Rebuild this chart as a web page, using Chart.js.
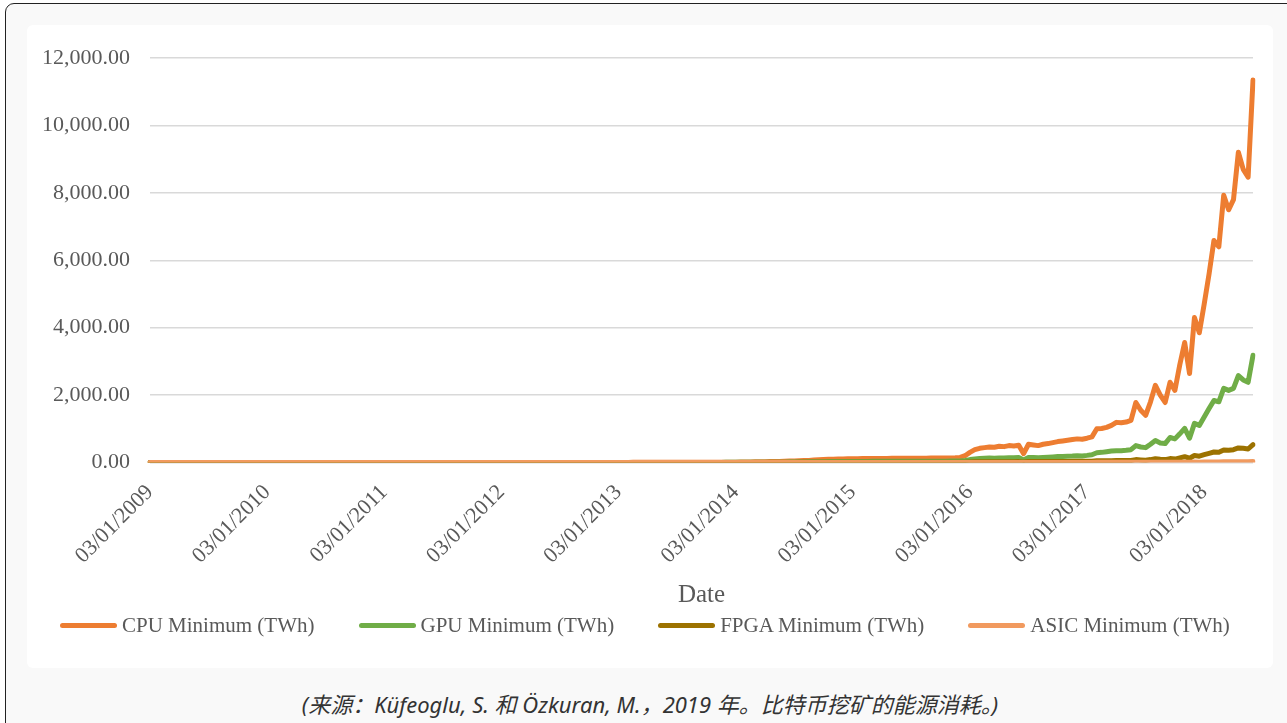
<!DOCTYPE html>
<html>
<head>
<meta charset="utf-8">
<title>Bitcoin mining energy - minimum estimates</title>
<script src="https://cdn.jsdelivr.net/npm/chart.js@4.4.1/dist/chart.umd.min.js"></script>
<style>
    html, body { margin: 0; padding: 0; background: #fff; width: 1287px; height: 723px; overflow: hidden; }
    .frame {
        position: absolute; left: 5px; top: 3px; width: 1320px; height: 760px;
        border: 1px solid #222; border-radius: 9px; background: #f9f9f9;
    }
    .card {
        position: absolute; left: 27px; top: 25px; width: 1246px; height: 643px;
        background: #fff; border-radius: 6px;
    }
    .legend {
        position: absolute; left: 60px; top: 612px; height: 26px;
        display: flex; align-items: center; gap: 44px;
        font: 21px 'Liberation Serif', 'Times New Roman', serif; color: #595959;
    }
    .legend .item { display: flex; align-items: center; white-space: nowrap; }
    .legend .swatch { width: 57px; height: 5px; border-radius: 3px; margin-right: 5px; }
    .caption {
        position: absolute; left: 27px; width: 1246px; top: 689px;
        text-align: center; font: italic 22px "Noto Sans", "Noto Sans CJK SC", sans-serif;
        color: #333; line-height: 30px;
    }
</style>
</head>
<body>
<div class="frame"></div>
<div class="card"><canvas id="energyChart" width="1246" height="643"></canvas></div>
<div class="legend" id="legend"></div>
<div class="caption">(来源：Küfeoglu, S. 和 Özkuran, M.，2019 年。比特币挖矿的能源消耗。)</div>

<script>
// one row per year, two readings per month (3rd and 17th), Jan 2009 .. Jun 2018
const CPU_MIN = [
    0, 0, 0, 0, 0, 0, 0, 0, 0, 0, 0, 0, 0, 0, 0, 0, 0, 0, 0, 0, 0, 0, 0, 0,
    0, 0, 0, 0, 0, 0, 0, 0, 0, 0, 0, 0, 0, 0, 0, 0, 0, 0, 0, 0, 0, 0, 0, 0,
    0, 0, 0, 0, 0, 0, 0, 0, 0, 0, 0, 0, 1, 1, 1, 1, 1, 1, 1, 1, 1, 1, 1, 1,
    1, 1, 1, 1, 1, 1, 1, 1, 1, 1, 1, 1, 2, 2, 2, 2, 2, 2, 2, 2, 2, 2, 2, 2,
    2, 2, 2, 3, 3, 3, 3, 4, 4, 4, 4, 5, 5, 5, 5, 6, 6, 6, 7, 7, 7, 8, 8, 9,
    10, 12, 14, 16, 18, 20, 22, 25, 28, 32, 36, 40, 45, 50, 55, 62, 70, 78, 85, 92, 98, 102, 105, 108,
    110, 112, 115, 115, 118, 118, 120, 120, 122, 122, 124, 125, 125, 126, 128, 128, 130, 130, 132, 132, 135, 140, 150, 200,
    300, 380, 420, 440, 460, 450, 480, 470, 500, 490, 510, 260, 540, 520, 500, 540, 560, 590, 620, 640, 660, 680, 700, 690,
    720, 760, 1000, 1010, 1040, 1100, 1190, 1180, 1200, 1250, 1780, 1550, 1400, 1800, 2290, 2000, 1780, 2380, 2140, 2900, 3560, 2640, 4300, 3850,
    4700, 5600, 6590, 6400, 7930, 7500, 7800, 9210, 8700, 8470, 11350
];

const GPU_MIN = [
    0, 0, 0, 0, 0, 0, 0, 0, 0, 0, 0, 0, 0, 0, 0, 0, 0, 0, 0, 0, 0, 0, 0, 0,
    0, 0, 0, 0, 0, 0, 0, 0, 0, 0, 0, 0, 0, 0, 0, 0, 0, 0, 0, 0, 0, 0, 0, 0,
    0, 0, 0, 0, 0, 0, 0, 0, 0, 0, 0, 0, 0, 0, 0, 0, 0, 0, 0, 0, 0, 0, 0, 0,
    0, 0, 0, 0, 0, 0, 0, 0, 0, 0, 0, 0, 1, 1, 1, 1, 1, 1, 1, 1, 1, 1, 1, 1,
    1, 1, 1, 1, 1, 1, 1, 1, 1, 1, 1, 1, 2, 2, 2, 2, 2, 2, 2, 2, 2, 2, 3, 3,
    3, 3, 4, 4, 5, 5, 6, 7, 8, 9, 10, 11, 12, 14, 16, 18, 20, 22, 24, 26, 27, 28, 29, 30,
    31, 31, 32, 32, 33, 33, 34, 34, 34, 35, 35, 35, 36, 36, 36, 37, 37, 38, 38, 38, 40, 42, 45, 60,
    85, 105, 118, 124, 130, 128, 135, 132, 140, 138, 145, 75, 150, 146, 140, 150, 158, 165, 175, 180, 185, 190, 200, 195,
    210, 230, 290, 300, 320, 340, 350, 350, 360, 380, 500, 460, 440, 540, 650, 580, 560, 740, 700, 850, 1010, 720, 1160, 1100,
    1350, 1600, 1840, 1800, 2200, 2140, 2200, 2580, 2450, 2380, 3180
];

const FPGA_MIN = [
    0, 0, 0, 0, 0, 0, 0, 0, 0, 0, 0, 0, 0, 0, 0, 0, 0, 0, 0, 0, 0, 0, 0, 0,
    0, 0, 0, 0, 0, 0, 0, 0, 0, 0, 0, 0, 0, 0, 0, 0, 0, 0, 0, 0, 0, 0, 0, 0,
    0, 0, 0, 0, 0, 0, 0, 0, 0, 0, 0, 0, 0, 0, 0, 0, 0, 0, 0, 0, 0, 0, 0, 0,
    0, 0, 0, 0, 0, 0, 0, 0, 0, 0, 0, 0, 0, 0, 0, 0, 0, 0, 0, 0, 0, 0, 0, 0,
    0, 0, 0, 0, 0, 0, 0, 0, 0, 0, 0, 0, 0, 0, 0, 0, 0, 0, 0, 0, 0, 0, 0, 0,
    0, 0, 0, 1, 1, 1, 1, 1, 1, 2, 2, 2, 2, 3, 3, 3, 4, 4, 4, 4, 5, 5, 5, 5,
    5, 5, 5, 5, 5, 6, 6, 6, 6, 6, 6, 6, 6, 6, 7, 7, 7, 7, 7, 7, 7, 8, 8, 10,
    14, 18, 20, 21, 22, 22, 23, 23, 24, 24, 25, 12, 26, 25, 25, 26, 27, 28, 30, 31, 32, 33, 34, 33,
    35, 36, 48, 48, 50, 52, 56, 56, 58, 60, 85, 75, 68, 85, 110, 95, 85, 115, 100, 135, 170, 125, 205, 185,
    230, 270, 310, 300, 370, 360, 380, 430, 420, 400, 530
];

const ASIC_MIN = [
    0, 0, 0, 0, 0, 0, 0, 0, 0, 0, 0, 0, 0, 0, 0, 0, 0, 0, 0, 0, 0, 0, 0, 0,
    0, 0, 0, 0, 0, 0, 0, 0, 0, 0, 0, 0, 0, 0, 0, 0, 0, 0, 0, 0, 0, 0, 0, 0,
    0, 0, 0, 0, 0, 0, 0, 0, 0, 0, 0, 0, 0, 0, 0, 0, 0, 0, 0, 0, 0, 0, 0, 0,
    0, 0, 0, 0, 0, 0, 0, 0, 0, 0, 0, 0, 0, 0, 0, 0, 0, 0, 0, 0, 0, 0, 0, 0,
    0, 0, 0, 0, 0, 0, 0, 0, 0, 0, 0, 0, 0, 0, 0, 0, 0, 0, 0, 0, 0, 0, 0, 0,
    0, 0, 0, 0, 0, 0, 0, 0, 0, 0, 0, 0, 0, 0, 0, 0, 0, 0, 0, 0, 0, 0, 0, 0,
    0, 0, 0, 0, 0, 0, 0, 0, 0, 0, 0, 0, 0, 0, 0, 0, 0, 0, 0, 0, 0, 0, 0, 0,
    1, 1, 1, 1, 1, 1, 1, 1, 1, 1, 1, 1, 1, 1, 1, 1, 1, 1, 1, 1, 2, 2, 2, 2,
    2, 2, 3, 3, 3, 3, 3, 3, 3, 3, 5, 4, 4, 5, 6, 5, 5, 6, 6, 7, 9, 7, 11, 10,
    12, 15, 17, 16, 20, 19, 20, 24, 22, 22, 29
];

const SERIES_NAMES = ['CPU Minimum (TWh)', 'GPU Minimum (TWh)', 'FPGA Minimum (TWh)', 'ASIC Minimum (TWh)'];
const SERIES_COLORS = ['#ED7D31', '#70AD47', '#9C7200', '#F19A5F'];
const YEARS = [2009, 2010, 2011, 2012, 2013, 2014, 2015, 2016, 2017, 2018];
const DAYS = ['03', '17'];
const Y_TICKS = [0, 2000, 4000, 6000, 8000, 10000, 12000];

const SERIF = "'Liberation Serif', 'Times New Roman', serif";
const TEXT_GRAY = '#595959';

// dd/mm/yyyy category labels, only the 3 January ones get printed
const dates = [];
YEARS.forEach(y => {
    for (let m = 1; m <= 12; m++) {
        DAYS.forEach(d => dates.push(`${d}/${String(m).padStart(2, '0')}/${y}`));
    }
});
const labels = dates.slice(0, CPU_MIN.length);

const values = [CPU_MIN, GPU_MIN, FPGA_MIN, ASIC_MIN];
const datasets = values.map((data, i) => ({
    label: SERIES_NAMES[i],
    data,
    borderColor: SERIES_COLORS[i],
    backgroundColor: SERIES_COLORS[i],
    borderWidth: 5,
    pointRadius: 0,
    tension: 0,
    borderJoinStyle: 'round',
    borderCapStyle: 'round',
    order: values.length - 1 - i   // later series drawn on top, like Excel
}));

// html legend, one swatch + name per series
const legendEl = document.getElementById('legend');
SERIES_NAMES.forEach((name, i) => {
    const item = document.createElement('div');
    item.className = 'item';
    item.innerHTML = `<span class="swatch" style="background:${SERIES_COLORS[i]}"></span>${name}`;
    legendEl.appendChild(item);
});

new Chart(document.getElementById('energyChart'), {
    type: 'line',
    data: { labels, datasets },
    options: {
        responsive: false,
        animation: false,
        layout: { padding: { left: -5, right: 20, top: 24, bottom: 54 } },
        plugins: {
            tooltip: { enabled: false },
            legend: { display: false }
        },
        scales: {
            x: {
                grid: { display: false },
                border: { display: false },
                ticks: {
                    autoSkip: false,
                    maxRotation: 45,
                    minRotation: 45,
                    padding: 9,
                    color: TEXT_GRAY,
                    font: { family: SERIF, size: 22 },
                    callback: function (value) {
                        const lab = this.getLabelForValue(value);
                        return lab.startsWith('03/01/') ? lab : null;
                    }
                },
                title: {
                    display: true,
                    text: 'Date',
                    color: TEXT_GRAY,
                    font: { family: SERIF, size: 25 },
                    padding: { top: 2, bottom: 4 }
                }
            },
            y: {
                min: Y_TICKS[0],
                max: Y_TICKS[Y_TICKS.length - 1],
                border: { display: false },
                grid: { color: '#d9d9d9', lineWidth: 1.5, drawTicks: false },
                ticks: {
                    stepSize: 2000,
                    padding: 20,
                    color: TEXT_GRAY,
                    font: { family: SERIF, size: 22 },
                    callback: v => v.toLocaleString('en-US', { minimumFractionDigits: 2, maximumFractionDigits: 2 })
                }
            }
        }
    }
});
</script>
</body>
</html>
